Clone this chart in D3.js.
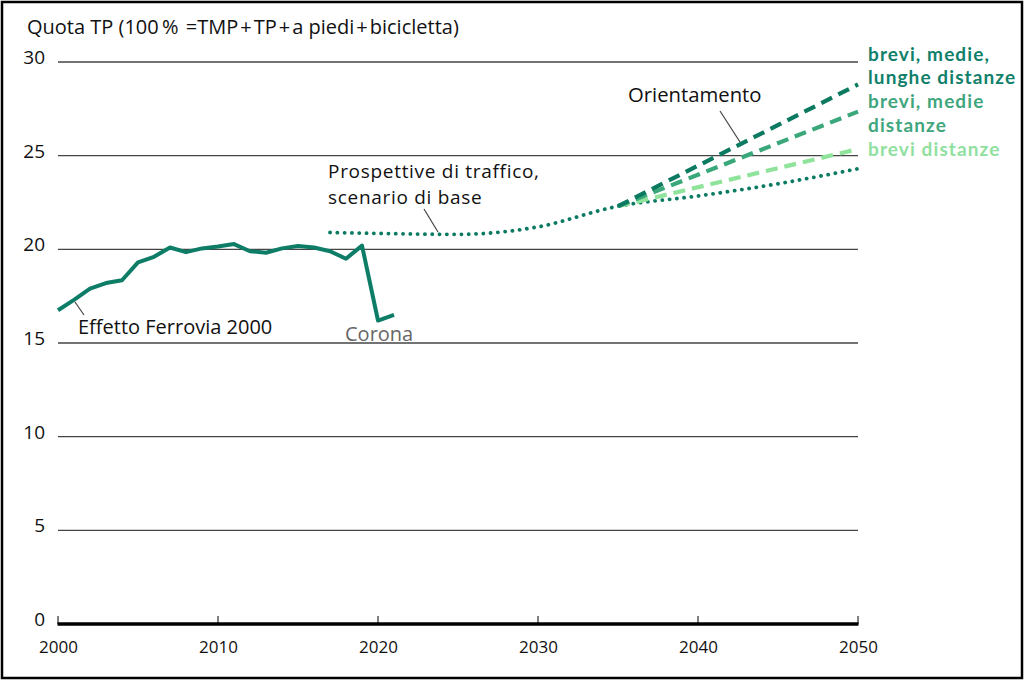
<!DOCTYPE html>
<html><head><meta charset="utf-8">
<script src="https://cdn.jsdelivr.net/npm/d3@7"></script>
<style>body{margin:0;background:#fff}svg{display:block}text{font-family:"Open Sans","Noto Sans",sans-serif}</style>
</head><body>
<script>
const histYears = [2000,2001,2002,2003,2004,2005,2006,2007,2008,2009,2010,2011,2012,2013,2014,2015,2016,2017,2018,2019,2020,2021];
const histValues = [16.75,17.3,17.9,18.2,18.35,19.3,19.6,20.1,19.85,20.05,20.15,20.28,19.9,19.82,20.05,20.18,20.1,19.9,19.5,20.2,16.2,16.5];
const baseYears = [2017,2020,2025,2028,2030,2035,2040,2045,2050];
const baseValues = [20.9,20.85,20.8,20.95,21.2,22.3,22.85,23.5,24.3];
const scenYears = [2035,2050];
const scenLong = [22.3,28.8];
const scenMedium = [22.3,27.35];
const scenShort = [22.3,25.35];
const yTicks = [0,5,10,15,20,25,30];
const xTicks = [2000,2010,2020,2030,2040,2050];

const W=1027,H=682;
const svg=d3.select("body").append("svg").attr("width",W).attr("height",H);
svg.append("rect").attr("x",2).attr("y",2).attr("width",1020).attr("height",676).attr("fill","#fff").attr("stroke","#000").attr("stroke-width",2.5);

const x=d3.scaleLinear().domain([2000,2050]).range([58,858]);
const y=d3.scaleLinear().domain([0,30]).range([624,62]);

// gridlines
svg.append("g").selectAll("line").data(yTicks.filter(d=>d>0)).join("line")
  .attr("x1",x(2000)).attr("x2",x(2050)).attr("y1",d=>y(d)).attr("y2",d=>y(d))
  .attr("stroke","#444").attr("stroke-width",1.3);

// y labels
svg.append("g").selectAll("text").data(yTicks).join("text")
  .attr("x",45).attr("y",d=>y(d)+2).attr("text-anchor","end")
  .attr("font-size",19).attr("fill","#111").text(d=>d);

// x axis
const xAxis=d3.axisBottom(x).tickValues(xTicks).tickFormat(d3.format("d")).tickSize(0).tickPadding(17);
const gx=svg.append("g").attr("transform",`translate(0,${y(0)})`).call(xAxis);
gx.select(".domain").remove();
gx.selectAll("text").attr("font-size",17).attr("fill","#111").attr("font-family","'Open Sans',sans-serif");
svg.append("g").selectAll("line").data(xTicks).join("line")
  .attr("x1",d=>x(d)).attr("x2",d=>x(d)).attr("y1",y(0)).attr("y2",y(0)-8)
  .attr("stroke","#000").attr("stroke-width",1);
svg.append("line").attr("x1",x(2000)-0.5).attr("x2",x(2050)+0.5).attr("y1",y(0)).attr("y2",y(0)).attr("stroke","#000").attr("stroke-width",3.5);

const line=d3.line().x(d=>x(d[0])).y(d=>y(d[1]));

// baseline dotted
svg.append("path").datum(d3.zip(baseYears,baseValues)).attr("d",d3.line().curve(d3.curveMonotoneX).x(d=>x(d[0])).y(d=>y(d[1])))
  .attr("fill","none").attr("stroke","#0b7a62").attr("stroke-width",3.8).attr("stroke-linecap","round").attr("stroke-dasharray","0.1 7.2");

// scenarios
const scen=[[scenShort,"#8fe39b"],[scenMedium,"#3aa87a"],[scenLong,"#0b7a60"]];
scen.forEach(([vals,col])=>{
  svg.append("path").datum(d3.zip(scenYears,vals)).attr("d",line)
    .attr("fill","none").attr("stroke",col).attr("stroke-width",4.2).attr("stroke-dasharray","12 7");
});

// historical
svg.append("path").datum(d3.zip(histYears,histValues)).attr("d",line)
  .attr("fill","none").attr("stroke","#0e7d68").attr("stroke-width",4).attr("stroke-linejoin","round");

// title
svg.append("text").attr("x",27).attr("y",34).attr("font-size",20).attr("fill","#111")
  .text("Quota TP (100\u2009% \u200a=TMP\u200a+\u200aTP\u200a+\u200aa piedi\u200a+\u200abicicletta)");

// annotations
function ann(lines,xp,yp,col,size,weight,lh,font,ls){
  const t=svg.append("text").attr("x",xp).attr("y",yp).attr("font-size",size).attr("fill",col).attr("font-weight",weight||"normal");
  if(font) t.style("font-family",font);
  if(ls) t.attr("letter-spacing",ls);
  lines.forEach((s,i)=>t.append("tspan").attr("x",xp).attr("dy",i?lh:0).text(s));
}
function leader(x1,y1,x2,y2){svg.append("line").attr("x1",x1).attr("y1",y1).attr("x2",x2).attr("y2",y2).attr("stroke","#444").attr("stroke-width",1.2);}

ann(["Effetto Ferrovia 2000"],78,334,"#111",20);
leader(75,302,84,315);
ann(["Corona"],345,341,"#666",20);
ann(["Prospettive di traffico,","scenario di base"],328,178,"#111",19,"normal",26,null,0.7);
leader(424,209,438,232);
ann(["Orientamento"],628,102,"#111",20.3);
leader(720,111,740,142);

const lab="Lato, sans-serif";
ann(["brevi, medie,","lunghe distanze"],868,61,"#10806a",19,"bold",23,lab,1.1);
ann(["brevi, medie","distanze"],868,108,"#3fa67e",19,"bold",23.5,lab,1.1);
ann(["brevi distanze"],868,156,"#90e0a0",19,"bold",0,lab,1.1);
</script>
</body></html>
